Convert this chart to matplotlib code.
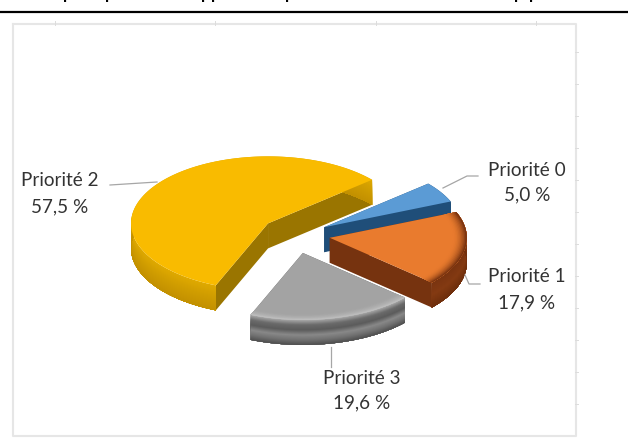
import numpy as np
import matplotlib
matplotlib.use("Agg")
import matplotlib.pyplot as plt
from matplotlib.colors import to_rgb
from matplotlib.patches import Polygon

# Data
categories = ["Priorité 0", "Priorité 1", "Priorité 3", "Priorité 2"]
shares = [5.0, 17.9, 19.6, 57.5]
value_labels = ["5,0 %", "17,9 %", "19,6 %", "57,5 %"]

# Style
explode = [0.25, 0.25, 0.29, 0.27]
nudge = [(-3, 2), (-2, 1), (-4, 0), (0, 0)]
top_colors = ["#5B9BD5", "#E97B2E", "#A3A3A3", "#F9BB00"]
side_stops = [
    ["#1F4E79", "#1F4E79"],
    ["#7A3410", "#843A12", "#6E2E0C"],
    ["#A8A8A8", "#6A6A6A", "#5C5C5C", "#888888", "#707070", "#4E4E4E"],
    ["#E0AA00", "#CF9C00", "#C39000"],
]
cut_colors = ["#1F4E79", "#76330F", "#5C5C5C", "#9A7500"]
bevel = [None, "#7A3410", "#BEBEBE", None]
draw_order = [3, 0, 1, 2]

CX, CY, RX, RY, DEPTH = 298, 234, 137, 67, 25
START = 40.6  # first slice starts here, going clockwise

fig = plt.figure(figsize=(6.28, 4.41), dpi=100, facecolor="white")
ax = fig.add_axes([0, 0, 1, 1])
ax.set_xlim(0, 628)
ax.set_ylim(441, 0)
ax.axis("off")
plt.rcParams["font.family"] = "Lato"

def blend(stops, f):
    cols = np.array([to_rgb(c) for c in stops])
    pos = np.linspace(0, 1, len(cols))
    return tuple(np.interp(f, pos, cols[:, i]) for i in range(3))

def pt(c, t, scale=1.0, dz=0.0):
    t = np.radians(t)
    return np.column_stack([c[0] + scale * RX * np.cos(t), c[1] - scale * RY * np.sin(t) + dz])

def poly(xy, color, z):
    ax.add_patch(Polygon(xy, closed=True, fc=color, ec="none", lw=0, zorder=z))

# Frame with its faint tick marks
frame = "#E6E6E6"
ax.plot([13, 13, 576, 576, 13], [24, 436, 436, 24, 24], color=frame, lw=1.5, zorder=1)
for x in [55, 215, 376, 536]:
    ax.plot([x, x], [21, 25], color="#DCDCDC", lw=0.7, zorder=1)
for y in range(52, 436, 32):
    ax.plot([575, 578], [y, y], color="#DCDCDC", lw=0.7, zorder=1)

# Rule above the chart and the cut-off title descenders
ax.plot([0, 628], [12, 12], color="black", lw=1.6, zorder=1, solid_capstyle="butt")
for x, g in [(68, "p"), (110, "p"), (206, "p"), (216, "p"), (290, "p"), (519, "p"), (534, "p")]:
    ax.text(x, -1, g, fontsize=12, fontweight="bold", ha="center", va="baseline", color="black",
            clip_on=False, zorder=2)

# Slices
spans = 360 * np.array(shares) / sum(shares)
ends = START - np.cumsum(spans)
starts = ends + spans
z = 3
for i in draw_order:
    t1, t2 = starts[i], ends[i]
    ts = np.linspace(t1, t2, 200)
    mid = np.radians((t1 + t2) / 2)
    c = (CX + explode[i] * RX * np.cos(mid) + nudge[i][0],
         CY - explode[i] * RY * np.sin(mid) + nudge[i][1])
    apex = np.array([c])
    # cut faces
    for t in (t1, t2):
        e = pt(c, t)
        poly(np.vstack([apex, e, e + [0, DEPTH], apex + [0, DEPTH]]), cut_colors[i], z)
    z += 1
    # outer wall: each band runs down to the base, so no seams show
    n = 24
    for k in range(n):
        a = DEPTH * k / n
        poly(np.vstack([pt(c, ts, dz=a), pt(c, ts[::-1], dz=DEPTH)]),
             blend(side_stops[i], (k + 0.5) / n), z)
        z += 1
    # top
    poly(np.vstack([apex, pt(c, ts)]), top_colors[i], z)
    z += 1
    # rim shading
    if bevel[i]:
        m = 10
        for k in range(m):
            f = (k + 1) / m
            s1 = 0.90 + 0.10 * k / m
            col = blend([top_colors[i], bevel[i]], f ** 2)
            poly(np.vstack([pt(c, ts, scale=s1), pt(c, ts[::-1], scale=1.0)]), col, z)
            z += 1

# Leader lines
leaders = [
    ([443, 467, 478], [188, 176, 176]),
    ([465, 469, 480], [275, 284, 284]),
    ([331, 331], [347, 367]),
    ([110, 157], [185, 182]),
]
for xs, ys in leaders:
    ax.plot(xs, ys, color="#A6A6A6", lw=0.9, zorder=z)

# Labels
label_xy = [(527, 170, 195), (527, 277, 303), (362, 378, 403), (60, 181, 207)]
for name, val, (x, y1, y2) in zip(categories, value_labels, label_xy):
    ax.text(x, y1, name, fontsize=13.6, ha="center", va="center", color="#333333", zorder=z)
    ax.text(x, y2, val, fontsize=13.6, ha="center", va="center", color="#333333", zorder=z)

fig.savefig("out.png", dpi=100, facecolor="white")
